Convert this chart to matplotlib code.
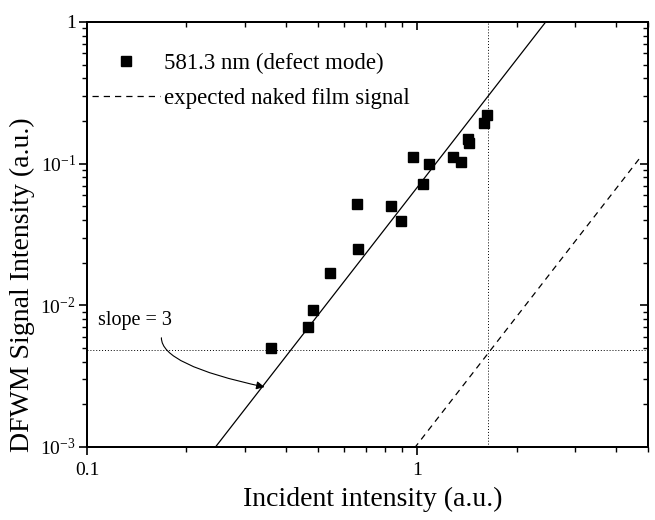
import numpy as np
import matplotlib
matplotlib.use('Agg')
import matplotlib.pyplot as plt
from matplotlib.ticker import LogLocator, FixedLocator, NullFormatter

plt.rcParams['font.family'] = ['Liberation Serif', 'DejaVu Serif']
plt.rcParams['mathtext.fontset'] = 'custom'
plt.rcParams['mathtext.rm'] = 'Liberation Serif'
plt.rcParams['mathtext.it'] = 'Liberation Serif:italic'

# measured points, 581.3 nm (defect mode)
intensity = [0.362, 0.467, 0.484, 0.544, 0.656, 0.660, 0.835, 0.895, 0.973,
             1.042, 1.086, 1.283, 1.355, 1.423, 1.433, 1.589, 1.623]
signal = [0.0050, 0.0070, 0.0093, 0.0169, 0.0519, 0.0250, 0.0503, 0.0394, 0.1115,
          0.0719, 0.0995, 0.1115, 0.1028, 0.1494, 0.1400, 0.1938, 0.2207]

# slope = 3 fit and expected naked film signal (y = a * x^3)
fit_coef = 0.068
fit_x = [0.245, 2.45]
naked_coef = 0.00104
naked_x = [0.98, 4.75]

# dotted guide lines
h_guide = 0.0048
v_guide = 1.64

x_ticks = [0.1, 1]
x_ticklabels = ['0.1', '1']
y_ticks = [1e-3, 1e-2, 1e-1, 1]
y_ticklabels = ['10$^{-3}$', '10$^{-2}$', '10$^{-1}$', '1']

fig = plt.figure(figsize=(6.55, 5.2), dpi=100)
ax = fig.add_axes([0.1328, 0.1404, 0.8565, 0.8173])

fx = np.array(fit_x)
ax.plot(fx, fit_coef * fx**3, color='black', lw=0.9)
nx = np.array(naked_x)
ax.plot(nx, naked_coef * nx**3, color='black', lw=0.9, ls=(0, (5, 4)),
        label='expected naked film signal')
ax.plot(intensity, signal, ls='none', marker='s', ms=7.5, color='black',
        label='581.3 nm (defect mode)')

ax.axhline(h_guide, color='black', lw=0.7, ls=(0, (1, 2)))
ax.axvline(v_guide, color='black', lw=0.7, ls=(0, (1, 2)))

ax.set_xscale('log')
ax.set_yscale('log')
ax.set_xlim(0.1, 5)
ax.set_ylim(1e-3, 1)

ax.xaxis.set_major_locator(FixedLocator(x_ticks))
ax.set_xticklabels(x_ticklabels)
ax.yaxis.set_major_locator(FixedLocator(y_ticks))
ax.set_yticklabels(y_ticklabels)
ax.xaxis.set_minor_locator(LogLocator(base=10, subs=np.arange(2, 10)))
ax.yaxis.set_minor_locator(LogLocator(base=10, subs=np.arange(2, 10)))
ax.xaxis.set_minor_formatter(NullFormatter())
ax.yaxis.set_minor_formatter(NullFormatter())
ax.tick_params(which='major', direction='out', length=6, width=1.2, labelsize=14)
ax.tick_params(axis='y', which='major', pad=2)
ax.tick_params(axis='x', which='major', pad=5)
ax.tick_params(which='minor', direction='out', length=3.5, width=1)

# top and right spines carry inward ticks
axr = ax.twinx()
axr.set_yscale('log')
axr.set_ylim(1e-3, 1)
axr.yaxis.set_major_locator(FixedLocator(y_ticks))
axr.yaxis.set_minor_locator(LogLocator(base=10, subs=np.arange(2, 10)))
axr.tick_params(which='both', direction='in', labelright=False)
axr.tick_params(which='major', length=6, width=1.2)
axr.tick_params(which='minor', length=3.5, width=1)
axt = ax.twiny()
axt.set_xscale('log')
axt.set_xlim(0.1, 5)
axt.xaxis.set_major_locator(FixedLocator(x_ticks))
axt.xaxis.set_minor_locator(LogLocator(base=10, subs=np.arange(2, 10)))
axt.tick_params(which='both', direction='in', labeltop=False)
axt.tick_params(which='major', length=6, width=1.2)
axt.tick_params(which='minor', length=3.5, width=1)

for a in (ax, axr, axt):
    for s in a.spines.values():
        s.set_linewidth(1.4)

ax.set_xlabel('Incident intensity (a.u.)', fontsize=20)
ax.xaxis.set_label_coords(0.51, -0.093)
ax.set_ylabel('DFWM Signal Intensity (a.u.)', fontsize=20)
ax.yaxis.set_label_coords(-0.092, 0.381)

# slope annotation
ax.text(0.14, 0.0078, 'slope = 3', fontsize=14.5, ha='center', va='center')
ax.annotate('', xy=(0.345, 0.00265), xytext=(0.168, 0.0059),
            arrowprops=dict(arrowstyle='-|>', color='black', lw=0.8,
                            connectionstyle='angle3,angleA=90,angleB=-12',
                            shrinkA=0, shrinkB=0, mutation_scale=12))

handles, labels = ax.get_legend_handles_labels()
ax.legend(handles[::-1], labels[::-1], loc='upper left', frameon=False, fontsize=16.5,
          handlelength=2.95, handletextpad=0.2, labelspacing=0.64,
          bbox_to_anchor=(0.009, 0.928), borderaxespad=0, borderpad=0)

fig.savefig('out.png', dpi=100)
